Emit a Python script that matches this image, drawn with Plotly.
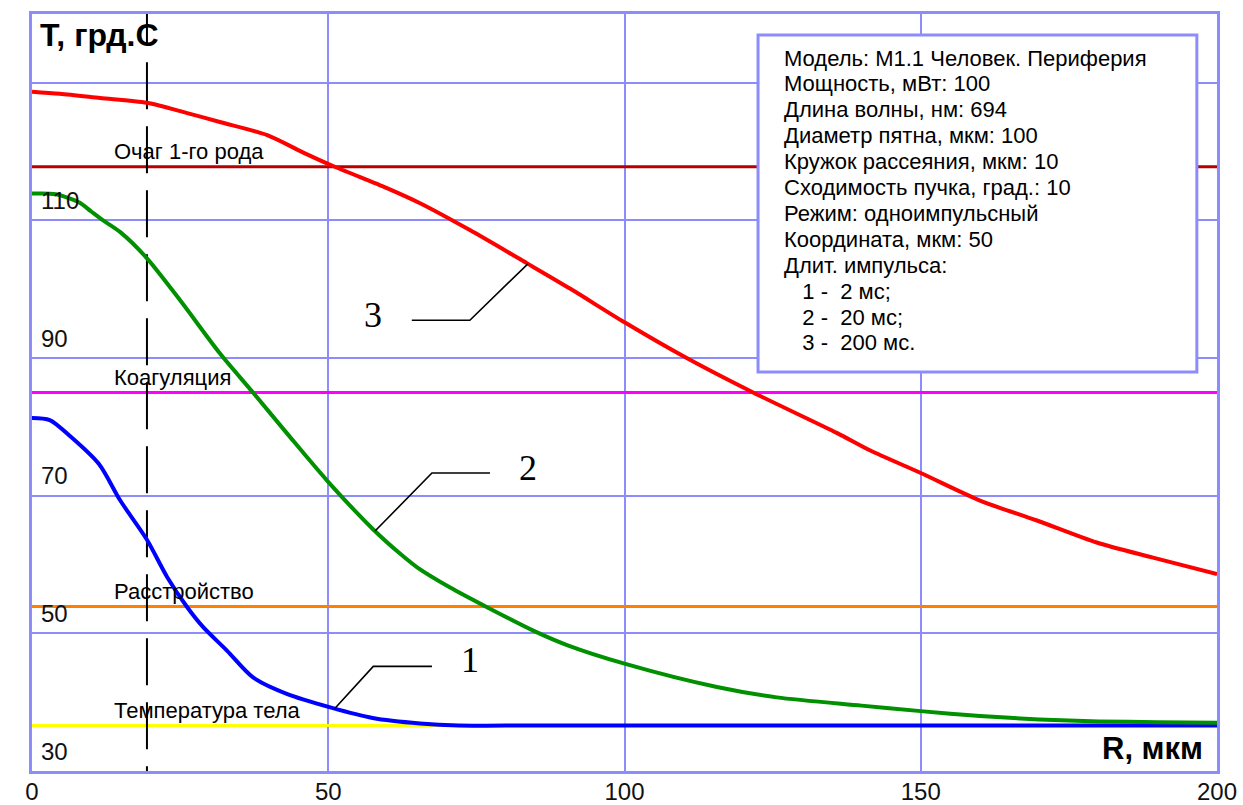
import numpy as np
import plotly.graph_objects as go

# ---- data -------------------------------------------------------------
# Radial coordinate R (мкм) and temperature T (°C) for three pulse lengths
R1 = [0, 3.0, 6.5, 11.3, 14.9, 19.4, 22.8, 26.2, 28.9, 32.9, 37.3, 43.0,
      50.5, 57.5, 65.5, 72, 80, 200]
T1 = [81.3, 81.0, 78.6, 74.6, 69.3, 63.6, 58.2, 53.8, 50.9, 47.5, 43.6, 41.2,
      39.2, 37.7, 36.9, 36.6, 36.6, 36.6]

R2 = [0, 4, 8, 10, 12, 14.9, 19.4, 25, 31.7, 37.3, 43, 49.8, 57.6, 62.1, 65,
      70.5, 76.8, 84.6, 90.3, 100, 115.6, 125.7, 140, 150, 160, 170, 180, 190,
      200]
T2 = [113.9, 113.8, 112.6, 111.3, 110.0, 108.3, 104.5, 98.4, 90.7, 85.0, 79.1,
      72.2, 65.1, 61.6, 59.6, 56.7, 53.8, 50.4, 48.3, 45.6, 42.2, 40.7, 39.5,
      38.7, 38.0, 37.5, 37.2, 37.1, 37.0]

R3 = [0, 4.7, 11.5, 19.4, 26.2, 31.7, 39.7, 45.7, 51.1, 59.9, 65.5, 73.9, 83.5,
      90.8, 100, 110.5, 121.7, 135.9, 141.4, 150, 160, 169.6, 179.7, 189.2, 200]
T3 = [128.7, 128.4, 127.8, 127.1, 125.6, 124.3, 122.4, 119.9, 117.8, 114.7,
      112.5, 108.6, 103.8, 100.1, 95.2, 90.0, 85.0, 79.1, 76.6, 73.3, 69.3,
      66.4, 63.2, 61.0, 58.6]

CURVE_COLORS = ["#0000ff", "#009000", "#ff0000"]

# Threshold temperatures
THRESH_NAMES = ["Очаг 1-го рода", "Коагуляция", "Расстройство", "Температура тела"]
THRESH_T = [117.8, 85.0, 53.9, 36.6]
THRESH_COLORS = ["#b40000", "#ff00ff", "#ff8000", "#ffff00"]
THRESH_LABEL_R = 13.5

# Curve number tags: touch point R, elbow (R, T), end R, text position (R, T)
TAGS = ["1", "2", "3"]
TAG_TOUCH_R = [51.1, 57.9, 83.7]
TAG_ELBOW = [(57.6, 45.2), (67.5, 73.3), (73.9, 95.5)]
TAG_END_R = [67.5, 77.3, 64.1]
TAG_TEXT = [(73.9, 46.1), (83.7, 74.0), (57.6, 96.2)]

DASH_R = 19.4

X_TICKS = [0, 50, 100, 150, 200]
Y_GRID = [50, 70, 90, 110, 130]
Y_LABELS = [30, 50, 70, 90, 110]
X_RANGE = [0, 200]
Y_RANGE = [30, 140]

INFO_LINES = [
    "Модель: М1.1 Человек. Периферия",
    "Мощность, мВт: 100",
    "Длина волны, нм: 694",
    "Диаметр пятна, мкм: 100",
    "Кружок рассеяния, мкм: 10",
    "Сходимость пучка, град.: 10",
    "Режим: одноимпульсный",
    "Координата, мкм: 50",
    "Длит. импульса:",
    "\u00a0\u00a0\u00a01 -\u00a0\u00a02 мс;",
    "\u00a0\u00a0\u00a02 -\u00a0\u00a020 мс;",
    "\u00a0\u00a0\u00a03 -\u00a0\u00a0200 мс.",
]

GRID = "#8c8cff"
SANS = "Liberation Sans, Arial, sans-serif"
SERIF = "Liberation Serif, Times New Roman, serif"

fig = go.Figure()

# threshold lines
for t, c in zip(THRESH_T, THRESH_COLORS):
    fig.add_trace(go.Scatter(x=X_RANGE, y=[t, t], mode="lines",
                             line=dict(color=c, width=3), hoverinfo="skip"))

# dashed marker line (starts just above the frame so the dash phase lines up)
fig.add_trace(go.Scatter(x=[DASH_R, DASH_R], y=[Y_RANGE[1] + 2.3, Y_RANGE[0]],
                         mode="lines", hoverinfo="skip",
                         line=dict(color="black", width=2, dash="47px,17px")))

# temperature curves
curves = [(R1, T1), (R2, T2), (R3, T3)]
for (r, t), c in zip(curves, CURVE_COLORS):
    fig.add_trace(go.Scatter(x=r, y=t, mode="lines",
                             line=dict(color=c, width=4, shape="spline",
                                       smoothing=0.8)))

shapes = []
annotations = []

# leader lines and tags
for i, tag in enumerate(TAGS):
    r, t = curves[i]
    touch_t = float(np.interp(TAG_TOUCH_R[i], r, t))
    er, et = TAG_ELBOW[i]
    path = f"M {TAG_TOUCH_R[i]},{touch_t} L {er},{et} L {TAG_END_R[i]},{et}"
    shapes.append(dict(type="path", path=path, xref="x", yref="y",
                       line=dict(color="black", width=1.6)))
    tx, ty = TAG_TEXT[i]
    annotations.append(dict(x=tx, y=ty, xref="x", yref="y", text=tag,
                            showarrow=False,
                            font=dict(family=SERIF, size=36, color="black")))

# threshold labels
for name, t in zip(THRESH_NAMES, THRESH_T):
    annotations.append(dict(x=THRESH_LABEL_R, y=t, xref="x", yref="y",
                            text=name, showarrow=False, xanchor="left",
                            yanchor="middle", yshift=15,
                            font=dict(family=SANS, size=22, color="black")))

# y tick labels drawn inside the plot above their grid lines
for v in Y_LABELS:
    annotations.append(dict(x=0, y=v, xref="paper", yref="y", text=str(v),
                            showarrow=False, xanchor="left", yanchor="middle",
                            xshift=7, yshift=20,
                            font=dict(family=SANS, size=24, color="#111")))

# axis titles
annotations.append(dict(x=0, y=1, xref="paper", yref="paper",
                        text="<b>Т, грд.С</b>", showarrow=False,
                        xanchor="left", yanchor="middle", xshift=6, yshift=-21,
                        font=dict(family=SANS, size=32, color="black")))
annotations.append(dict(x=1, y=0, xref="paper", yref="paper",
                        text="<b>R, мкм</b>", showarrow=False,
                        xanchor="right", yanchor="middle", xshift=-12, yshift=23,
                        font=dict(family=SANS, size=31, color="black")))

# info box
shapes.append(dict(type="rect", xref="paper", yref="paper",
                   x0=0.6127, x1=0.983, y0=0.527, y1=0.9723,
                   fillcolor="white", line=dict(color=GRID, width=3),
                   layer="above"))
for i, line in enumerate(INFO_LINES):
    annotations.append(dict(x=0.6329, y=1, xref="paper", yref="paper",
                            text=line, showarrow=False, xanchor="left",
                            yanchor="middle", yshift=-(44 + i * 25.9),
                            font=dict(family=SANS, size=22, color="black")))

fig.update_layout(
    width=1243, height=805,
    margin=dict(l=32, r=26, t=14, b=34),
    paper_bgcolor="white", plot_bgcolor="white",
    showlegend=False,
    shapes=shapes, annotations=annotations,
    xaxis=dict(range=X_RANGE, tickvals=X_TICKS, showgrid=True,
               gridcolor=GRID, gridwidth=2, zeroline=False,
               showline=True, mirror=True, linecolor=GRID, linewidth=3,
               ticks="", ticklabelstandoff=-3, automargin=False,
               tickfont=dict(family=SANS, size=24, color="#111")),
    yaxis=dict(range=Y_RANGE, tickvals=Y_GRID, showgrid=True,
               gridcolor=GRID, gridwidth=2, zeroline=False,
               showline=True, mirror=True, linecolor=GRID, linewidth=3,
               showticklabels=False, ticks="", automargin=False),
)

fig.write_html("out.html")
